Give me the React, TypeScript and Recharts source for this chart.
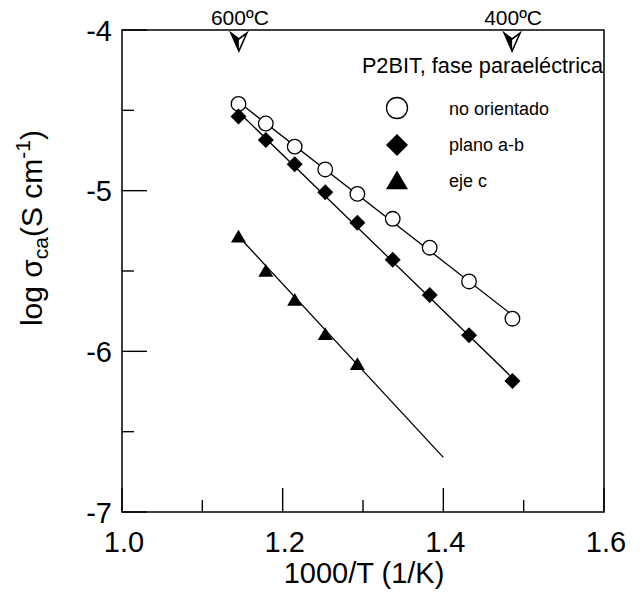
import React from "react";
import { ComposedChart, XAxis, YAxis, Scatter, ReferenceArea, ReferenceDot } from "recharts";

// 1000/T for 600..400 ºC every 25 ºC
const invT = [1.145, 1.179, 1.215, 1.253, 1.293, 1.337, 1.383, 1.432, 1.486];
const noOrientado = [-4.46, -4.582, -4.726, -4.868, -5.02, -5.175, -5.355, -5.565, -5.797];
const planoAB = [-4.538, -4.685, -4.835, -5.01, -5.2, -5.43, -5.65, -5.9, -6.184];
const ejeC = [-5.288, -5.5, -5.682, -5.895, -6.081];

// fitted straight lines (end points)
const fitNoX = [1.145, 1.486];
const fitNoY = [-4.448, -5.775];
const fitAbX = [1.145, 1.486];
const fitAbY = [-4.51, -6.165];
const fitCX = [1.145, 1.4];
const fitCY = [-5.284, -6.66];

const xTicks = [1.0, 1.1, 1.2, 1.3, 1.4, 1.5, 1.6];
const yTicks = [-7, -6.5, -6, -5.5, -5, -4.5, -4];
const tempMarks = [
  { x: 1.1455, label: "600ºC" },
  { x: 1.4856, label: "400ºC" },
];

const FONT = "'Liberation Sans', Arial, Helvetica, sans-serif";

const pts = (xs: number[], ys: number[]) => ys.map((y, i) => ({ x: xs[i], y }));

const Circle = ({ cx, cy, r = 7.3 }: any) => (
  <circle cx={cx} cy={cy} r={r} fill="#fff" stroke="#000" strokeWidth={1.3} />
);
const Diamond = ({ cx, cy, s = 8 }: any) => (
  <path d={`M${cx},${cy - s}L${cx + s},${cy}L${cx},${cy + s}L${cx - s},${cy}Z`} fill="#000" />
);
const Triangle = ({ cx, cy, s = 7.5 }: any) => (
  <path d={`M${cx},${cy - s * 0.95}L${cx + s},${cy + s * 0.75}L${cx - s},${cy + s * 0.75}Z`} fill="#000" />
);

const XTick = ({ x, y, payload }: any) => {
  const v = payload.value;
  const major = Math.round(v * 10) % 2 === 0;
  return (
    <g>
      <line x1={x} y1={y} x2={x} y2={y - (major ? 24 : 12)} stroke="#000" strokeWidth={1.4} />
      {major && (
        <text x={x + 2} y={y + 40} textAnchor="middle" fontSize={29} fontFamily={FONT} fill="#000">
          {v.toFixed(1)}
        </text>
      )}
    </g>
  );
};

const YTick = ({ x, y, payload }: any) => {
  const v = payload.value;
  const major = Number.isInteger(v);
  return (
    <g>
      <line x1={x} y1={y} x2={x + (major ? 25 : 12)} y2={y} stroke="#000" strokeWidth={1.4} />
      {major && (
        <text x={x - 10} y={y + 10.5} textAnchor="end" fontSize={29} fontFamily={FONT} fill="#000">
          {String(v)}
        </text>
      )}
    </g>
  );
};

const TempArrow = ({ cx, cy, label }: any) => (
  <g>
    <text x={cx + 1} y={cy - 5} textAnchor="middle" fontSize={21} fontFamily={FONT} fill="#000">
      {label}
    </text>
    <path
      d={`M${cx - 8},${cy + 3}L${cx},${cy + 21}L${cx + 8},${cy + 3}L${cx},${cy + 9}Z`}
      fill="#fff"
      stroke="#000"
      strokeWidth={1.6}
      strokeLinejoin="miter"
    />
    <path d={`M${cx - 8},${cy + 3}L${cx},${cy + 21}L${cx},${cy + 9}Z`} fill="#000" />
  </g>
);

const NoShape = () => <g />;

export default function App() {
  return (
    <div style={{ position: "absolute", left: 0, top: 0, background: "#fff" }}>
      <ComposedChart width={644} height={597} margin={{ top: 30, right: 40, bottom: 0, left: 0 }}>
        <XAxis
          type="number"
          dataKey="x"
          domain={[1.0, 1.6]}
          ticks={xTicks}
          allowDataOverflow
          axisLine={false}
          tickLine={false}
          tickSize={0}
          tickMargin={0}
          height={85}
          tick={<XTick />}
          interval={0}
        />
        <YAxis
          type="number"
          dataKey="y"
          domain={[-7, -4]}
          ticks={yTicks}
          allowDataOverflow
          axisLine={false}
          tickLine={false}
          tickSize={0}
          tickMargin={0}
          width={122}
          tick={<YTick />}
          interval={0}
        />
        <ReferenceArea x1={1.0} x2={1.6} y1={-7} y2={-4} fill="none" stroke="#000" strokeWidth={1.5} />

        <Scatter data={pts(fitNoX, fitNoY)} line={{ stroke: "#000", strokeWidth: 1.3 }} shape={<NoShape />} isAnimationActive={false} />
        <Scatter data={pts(fitAbX, fitAbY)} line={{ stroke: "#000", strokeWidth: 1.3 }} shape={<NoShape />} isAnimationActive={false} />
        <Scatter data={pts(fitCX, fitCY)} line={{ stroke: "#000", strokeWidth: 1.3 }} shape={<NoShape />} isAnimationActive={false} />

        <Scatter name="no orientado" data={pts(invT, noOrientado)} shape={<Circle />} isAnimationActive={false} />
        <Scatter name="plano a-b" data={pts(invT, planoAB)} shape={<Diamond />} isAnimationActive={false} />
        <Scatter name="eje c" data={pts(invT, ejeC)} shape={<Triangle />} isAnimationActive={false} />

        {tempMarks.map((t) => (
          <ReferenceDot
            key={t.label}
            x={t.x}
            y={-4}
            ifOverflow="visible"
            shape={(p: any) => <TempArrow cx={p.cx} cy={p.cy} label={t.label} />}
          />
        ))}

        {/* legend */}
        <g fontFamily={FONT} fill="#000">
          <text x={603} y={73} textAnchor="end" fontSize={21.7}>P2BIT, fase paraeléctrica</text>
          <Circle cx={397} cy={108} r={10.5} />
          <text x={449} y={115} fontSize={18}>no orientado</text>
          <Diamond cx={397} cy={145} s={11} />
          <text x={449} y={151} fontSize={18}>plano a-b</text>
          <Triangle cx={397} cy={181} s={11} />
          <text x={449} y={187} fontSize={18}>eje c</text>
        </g>

        {/* axis titles */}
        <text x={364} y={583} textAnchor="middle" fontSize={29} fontFamily={FONT} fill="#000">
          1000/T (1/K)
        </text>
        <g transform="translate(42, 228) rotate(-90)">
          <text x={0} y={0} textAnchor="middle" fontSize={30} fontFamily={FONT} fill="#000">
            <tspan>log σ</tspan>
            <tspan fontSize={21} dy={6}>ca</tspan>
            <tspan dy={-6}>(S cm</tspan>
            <tspan fontSize={21} dy={-12}>-1</tspan>
            <tspan dy={12}>)</tspan>
          </text>
        </g>
      </ComposedChart>
    </div>
  );
}
